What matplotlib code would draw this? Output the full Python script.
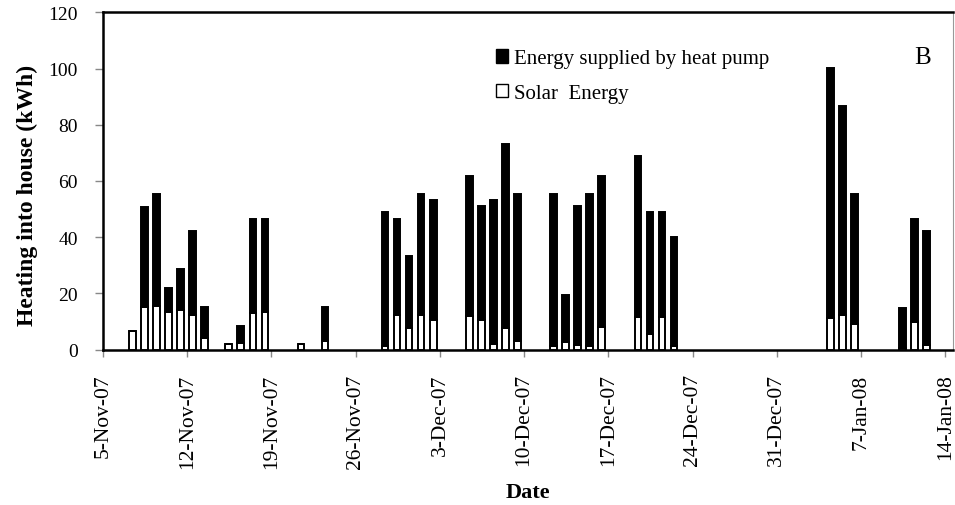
import pandas as pd
import matplotlib
matplotlib.use("Agg")
import matplotlib.pyplot as plt
import matplotlib.dates as mdates
from matplotlib.patches import Patch
from matplotlib.ticker import FuncFormatter

plt.rcParams['font.family'] = ['Liberation Serif', 'DejaVu Serif']

# daily heating delivered into the house (kWh)
dates = ["2007-11-07", "2007-11-08", "2007-11-09", "2007-11-10", "2007-11-11",
         "2007-11-12", "2007-11-13", "2007-11-15", "2007-11-16", "2007-11-17",
         "2007-11-18", "2007-11-21", "2007-11-23", "2007-11-28", "2007-11-29",
         "2007-11-30", "2007-12-01", "2007-12-02", "2007-12-05", "2007-12-06",
         "2007-12-07", "2007-12-08", "2007-12-09", "2007-12-12", "2007-12-13",
         "2007-12-14", "2007-12-15", "2007-12-16", "2007-12-19", "2007-12-20",
         "2007-12-21", "2007-12-22", "2008-01-04", "2008-01-05", "2008-01-06",
         "2008-01-10", "2008-01-11", "2008-01-12"]
solar = [6.5, 15.1, 15.7, 13.3, 14.2, 12.3, 4.2, 2.0, 2.4, 12.9,
         13.3, 2.0, 3.2, 1.4, 12.3, 7.6, 12.2, 10.7, 12.1, 10.7,
         2.0, 7.6, 3.2, 1.2, 2.6, 1.7, 1.2, 8.0, 11.5, 5.6,
         11.5, 1.2, 11.2, 12.3, 9.1, 0.5, 9.7, 1.7]
heat_pump = [0.0, 35.8, 39.8, 8.8, 14.5, 30.0, 10.9, 0.0, 6.1, 33.4,
             33.0, 0.0, 11.9, 47.5, 34.0, 25.6, 43.3, 42.7, 49.8, 40.3,
             51.4, 65.6, 52.2, 54.2, 17.0, 49.3, 54.2, 53.9, 57.5, 43.3,
             37.4, 38.8, 89.0, 74.5, 46.3, 14.3, 36.6, 40.4]
tick_dates = ["2007-11-05", "2007-11-12", "2007-11-19", "2007-11-26", "2007-12-03",
              "2007-12-10", "2007-12-17", "2007-12-24", "2007-12-31", "2008-01-07",
              "2008-01-14"]

x = mdates.date2num(pd.to_datetime(dates)) + 0.45
ticks = mdates.date2num(pd.to_datetime(tick_dates))

fig = plt.figure(figsize=(9.55, 5.06), dpi=100)
ax = fig.add_axes([0.1078, 0.307, 0.8902, 0.6667])

w = 0.54
ax.bar(x, solar, width=w, color='white', edgecolor='black', linewidth=1.4, zorder=3)
ax.bar(x, heat_pump, width=w, bottom=solar, color='black', edgecolor='black',
       linewidth=1.4, zorder=3)

ax.set_xlim(ticks[0], ticks[0] + 70.65)
ax.set_ylim(0, 120)
ax.set_yticks(range(0, 121, 20))
ax.set_xticks(ticks)
ax.xaxis.set_major_formatter(FuncFormatter(
    lambda v, p: "{}-{}".format(mdates.num2date(v).day, mdates.num2date(v).strftime("%b-%y"))))

ax.tick_params(axis='x', labelsize=15.5, rotation=90, direction='out', length=5,
               width=1, color='#888888', pad=12)
ax.tick_params(axis='y', labelsize=14, direction='out', length=6, width=1,
               color='#888888', pad=12)

for s in ['left', 'top', 'bottom']:
    ax.spines[s].set_linewidth(1.8)
ax.spines['right'].set_linewidth(0.8)
ax.spines['right'].set_color('#999999')

ax.set_ylabel('Heating into house (kWh)', fontsize=17, fontweight='bold')
ax.yaxis.set_label_coords(-0.076, 0.46)
ax.set_xlabel('Date', fontsize=16, fontweight='bold', labelpad=10.5)

handles = [Patch(facecolor='black', edgecolor='black'),
           Patch(facecolor='white', edgecolor='black')]
ax.legend(handles, ['Energy supplied by heat pump', 'Solar  Energy'],
          loc='upper left', bbox_to_anchor=(0.462, 0.89), frameon=False,
          fontsize=15, handlelength=0.6, handleheight=0.6, handletextpad=0.3,
          labelspacing=0.75, borderpad=0, borderaxespad=0)

ax.text(0.964, 0.868, 'B', transform=ax.transAxes, fontsize=18,
        ha='center', va='center')

fig.savefig('out.png', dpi=100)
